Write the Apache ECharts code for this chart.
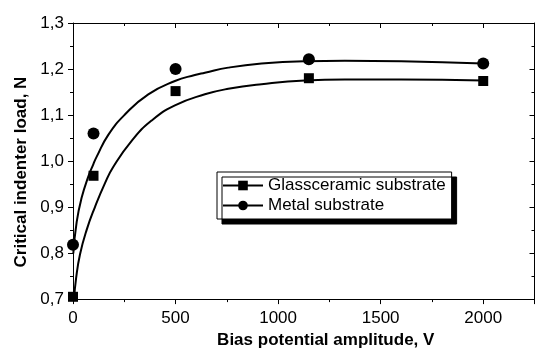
<!DOCTYPE html>
<html>
<head>
<meta charset="utf-8">
<script src="https://cdn.jsdelivr.net/npm/echarts@6/dist/echarts.min.js"></script>
<style>html,body{margin:0;padding:0;background:#fff;}#c{width:536px;height:354px;}</style>
</head>
<body>
<div id="c"></div>
<script>
// measured data points
var biasV = [0, 100, 500, 1150, 2000];
var glassLoad = [0.705, 0.968, 1.152, 1.180, 1.174];
var metalLoad = [0.818, 1.060, 1.200, 1.221, 1.212];
// fitted curves
var glassFitX = [5, 15, 34, 67, 107, 156, 196, 286, 383, 497, 643, 757, 919, 1130, 1325, 1600, 2000];
var glassFitY = [0.700, 0.745, 0.797, 0.851, 0.900, 0.952, 0.987, 1.044, 1.088, 1.121, 1.145, 1.157, 1.167, 1.175, 1.177, 1.177, 1.175];
var metalFitX = [1.5, 18, 42, 74.5, 99, 115, 172, 253, 367, 497, 594, 643, 757, 919, 1130, 1325, 1600, 2000];
var metalFitY = [0.799, 0.868, 0.920, 0.966, 0.993, 1.009, 1.057, 1.101, 1.145, 1.174, 1.187, 1.192, 1.203, 1.212, 1.217, 1.218, 1.217, 1.212];
var seriesNames = ['Glassceramic substrate', 'Metal substrate'];
var xTitle = 'Bias potential amplitude, V';
var yTitle = 'Critical indenter load, N';

function pairs(xs, ys) { return xs.map(function (x, i) { return [x, ys[i]]; }); }

var FONT = '"Liberation Sans", Arial, sans-serif';
var chart = echarts.init(document.getElementById('c'), null, { renderer: 'canvas' });

var baseX = {
  type: 'value', min: 0, max: 2250, gridIndex: 0,
  splitLine: { show: false },
  axisLine: { show: true, onZero: false, lineStyle: { color: '#000', width: 1 } }
};
function xa(extra) { return Object.assign({}, baseX, extra); }

chart.setOption({
  animation: false,
  backgroundColor: '#fff',
  grid: { left: 73, top: 23, width: 461.5, height: 284, containLabel: false },
  xAxis: [
    xa({
      position: 'bottom', interval: 250,
      name: xTitle, nameLocation: 'middle', nameGap: 31,
      nameTextStyle: { fontFamily: FONT, fontSize: 17, fontWeight: 'bold', color: '#000', padding: [0, 0, 0, 44] },
      axisTick: { show: true, inside: false, length: 3, lineStyle: { color: '#000' } },
      axisLabel: { show: true, margin: 11, fontFamily: FONT, fontSize: 17, color: '#000', showMaxLabel: false,
        formatter: function (v) { return (v % 500 === 0) ? String(v) : ''; } }
    }),
    xa({
      position: 'bottom', interval: 500,
      axisLine: { show: false },
      axisTick: { show: true, inside: false, length: 5, lineStyle: { color: '#000' } },
      axisLabel: { show: false }
    }),
    xa({
      position: 'top', interval: 250,
      axisTick: { show: true, inside: true, length: 3, lineStyle: { color: '#000' } },
      axisLabel: { show: false }
    }),
    xa({
      position: 'top', interval: 500,
      axisLine: { show: false },
      axisTick: { show: true, inside: true, length: 5, lineStyle: { color: '#000' } },
      axisLabel: { show: false }
    })
  ],
  yAxis: [
    {
      type: 'value', min: 0.7, max: 1.3, interval: 0.1, position: 'left',
      name: yTitle, nameLocation: 'middle', nameGap: 43, nameRotate: 90,
      nameTextStyle: { fontFamily: FONT, fontSize: 17, fontWeight: 'bold', color: '#000', padding: [0, 22, 0, 0] },
      splitLine: { show: false },
      axisLine: { show: true, onZero: false, lineStyle: { color: '#000', width: 1 } },
      axisTick: { show: true, inside: false, length: 5, lineStyle: { color: '#000' } },
      minorTick: { show: true, splitNumber: 2, length: 3, lineStyle: { color: '#000' } },
      axisLabel: { margin: 9, fontFamily: FONT, fontSize: 17, color: '#000',
        formatter: function (v) { return v.toFixed(1).replace('.', ','); } }
    },
    {
      type: 'value', min: 0.7, max: 1.3, interval: 0.1, position: 'right',
      splitLine: { show: false },
      axisLine: { show: true, onZero: false, lineStyle: { color: '#000', width: 1 } },
      axisTick: { show: true, inside: true, length: 5, lineStyle: { color: '#000' } },
      minorTick: { show: true, splitNumber: 2, length: 3, lineStyle: { color: '#000' } },
      axisLabel: { show: false }
    }
  ],
  legend: {
    orient: 'vertical', left: 217, top: 172,
    data: seriesNames,
    itemWidth: 40, itemHeight: 12, itemGap: 3,
    padding: [5, 6, 5, 5],
    backgroundColor: '#fff', borderColor: '#000', borderWidth: 1,
    shadowColor: '#000', shadowBlur: 0, shadowOffsetX: 5, shadowOffsetY: 5,
    textStyle: { fontFamily: FONT, fontSize: 17, color: '#000' }
  },
  series: [
    {
      name: seriesNames[0], type: 'line', xAxisIndex: 0, yAxisIndex: 0,
      data: pairs(glassFitX, glassFitY), smooth: 0.5,
      symbol: 'rect', showSymbol: false, symbolSize: 10,
      lineStyle: { color: '#000', width: 2 }, itemStyle: { color: '#000' }, z: 2
    },
    {
      name: seriesNames[1], type: 'line', xAxisIndex: 0, yAxisIndex: 0,
      data: pairs(metalFitX, metalFitY), smooth: 0.5,
      symbol: 'circle', showSymbol: false, symbolSize: 11,
      lineStyle: { color: '#000', width: 2 }, itemStyle: { color: '#000' }, z: 2
    },
    {
      name: 'glassPts', type: 'scatter', xAxisIndex: 0, yAxisIndex: 0,
      data: pairs(biasV, glassLoad), symbol: 'rect', symbolSize: 10,
      itemStyle: { color: '#000', opacity: 1 }, z: 3
    },
    {
      name: 'metalPts', type: 'scatter', xAxisIndex: 0, yAxisIndex: 0,
      data: pairs(biasV, metalLoad), symbol: 'circle', symbolSize: 12,
      itemStyle: { color: '#000', opacity: 1 }, z: 3
    }
  ]
});
</script>
</body>
</html>
